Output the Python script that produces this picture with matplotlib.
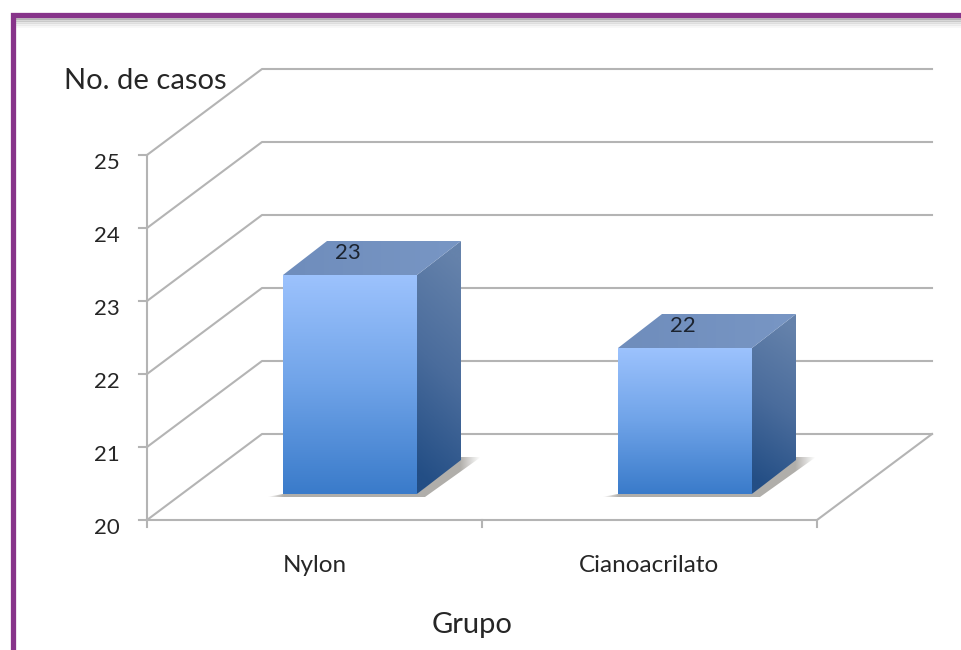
import numpy as np
import matplotlib
matplotlib.use('Agg')
import matplotlib.pyplot as plt
from matplotlib.colors import LinearSegmentedColormap
from matplotlib.patches import Polygon

categories = ['Nylon', 'Cianoacrilato']
values = [23, 22]
y_ticks = [20, 21, 22, 23, 24, 25]

plt.rcParams['font.family'] = ['Lato', 'DejaVu Sans']

W, H = 961, 650
PX_X = 335.0   # pixels per category
PX_Y = 73.0    # pixels per case
X0, Y0 = 147, 520   # where category 0, value 20 sits

# oblique offsets of the 3D box, in data units
DEPTH_X = 115 / PX_X
DEPTH_Y = 86 / PX_Y
BAR_DX = 44 / PX_X
BAR_DY = 34 / PX_Y
BAR_W = 134 / PX_X
FLOOR_X = 136 / PX_X
FLOOR_Y = 26 / PX_Y

GRID = '#b4b4b4'
TXT = '#262626'

fig = plt.figure(figsize=(W / 100, H / 100), dpi=100)
ax = fig.add_axes([0, 0, 1, 1])
ax.axis('off')
xlim = (-X0 / PX_X, (W - X0) / PX_X)
ylim = (20 - (H - Y0) / PX_Y, 20 + Y0 / PX_Y)


def grad(poly, array, cmap, zorder):
    # gradient image clipped to a polygon
    xs, ys = zip(*poly)
    p = Polygon(poly, closed=True, fc='none', ec='none', transform=ax.transData)
    ax.add_patch(p)
    im = ax.imshow(array, extent=(min(xs), max(xs), min(ys), max(ys)), cmap=cmap,
                   vmin=0, vmax=1, aspect='auto', origin='upper', zorder=zorder,
                   interpolation='bilinear')
    im.set_clip_path(p)


front_cm = LinearSegmentedColormap.from_list('front', ['#9cc2fd', '#6fa3e8', '#3a7bca'])
side_cm = LinearSegmentedColormap.from_list('side', ['#6582ab', '#4a6c9c', '#234e85'])
top_cm = LinearSegmentedColormap.from_list('top', ['#6f8dbc', '#7896c4'])
shadow_cm = LinearSegmentedColormap.from_list('shadow', ['#8f8c86', '#ffffff'])

# frame round the slide
fx = xlim[0] + 13 / PX_X
fy = ylim[1] - 14.5 / PX_Y
for i, a in enumerate([0.40, 0.28, 0.18, 0.10, 0.05]):
    ax.plot([fx, xlim[1]], [fy - (3 + i * 2) / PX_Y] * 2, color='#707070', alpha=a, lw=2, zorder=4)
ax.plot([fx, fx, xlim[1] + 1], [ylim[0] - 1, fy, fy], color='#87348a', lw=3.8,
        solid_joinstyle='miter', zorder=5)

# walls and floor lines
for v in y_ticks:
    ax.plot([0, DEPTH_X, 2 + DEPTH_X], [v, v + DEPTH_Y, v + DEPTH_Y], color=GRID, lw=1.5, zorder=1)
    ax.plot([-8 / PX_X, 0], [v, v], color=GRID, lw=1.5, zorder=1)
    ax.text(-27 / PX_X, v - 8 / PX_Y, str(v), ha='right', va='center', fontsize=16, color=TXT)
ax.plot([0, 0], [20, 25], color=GRID, lw=1.5, zorder=1)
ax.plot([0, 2, 2 + DEPTH_X], [20, 20, 20 + DEPTH_Y], color=GRID, lw=1.5, zorder=1)
for t in range(len(categories) + 1):
    ax.plot([t, t], [20, 20 - 7 / PX_Y], color=GRID, lw=1.5, zorder=1)

# bars
for i, (name, val) in enumerate(zip(categories, values)):
    x1 = i + FLOOR_X
    x2 = x1 + BAR_W
    y1 = 20 + FLOOR_Y
    y2 = val + FLOOR_Y

    # ground shadow, fading out at both tips
    sx1 = x1 - 16 / PX_X
    sx2 = x2 + BAR_DX + 20 / PX_X
    shadow = [(sx1, y1 - 3 / PX_Y), (x2 + 8 / PX_X, y1 - 3 / PX_Y),
              (sx2, y1 + BAR_DY + 3 / PX_Y), (x2 + BAR_DX, y1 + BAR_DY + 3 / PX_Y),
              (x2, y1), (x1, y1)]
    sgrid = np.linspace(sx1, sx2, 128)
    fade = np.interp(sgrid, [sx1, x1, x2 + BAR_DX, sx2], [1.0, 0.3, 0.3, 1.0]).reshape(1, -1)
    grad(shadow, fade, shadow_cm, 2)

    g = np.linspace(0, 1, 128).reshape(-1, 1)
    grad([(x1, y1), (x2, y1), (x2, y2), (x1, y2)], g, front_cm, 3)

    # side face darkens downward, slightly towards the front edge
    ramp = np.linspace(0, 1, 128).reshape(-1, 1) + np.linspace(0.08, -0.08, 32).reshape(1, -1)
    grad([(x2, y1), (x2 + BAR_DX, y1 + BAR_DY), (x2 + BAR_DX, y2 + BAR_DY), (x2, y2)],
         np.clip(ramp, 0, 1), side_cm, 3)

    g2 = np.linspace(0, 1, 32).reshape(1, -1)
    grad([(x1, y2), (x2, y2), (x2 + BAR_DX, y2 + BAR_DY), (x1 + BAR_DX, y2 + BAR_DY)], g2, top_cm, 3)

    ax.text(x1 + BAR_W / 2 - 2 / PX_X, y2 + 22 / PX_Y, str(val), ha='center', va='center',
            fontsize=16, color='#1c2430', zorder=6)
    ax.text(i + 0.5, 20 - 45 / PX_Y, name, ha='center', va='center', fontsize=17.5, color=TXT)

ax.text(-2 / PX_X, 20 + 439 / PX_Y, 'No. de casos', ha='center', va='center', fontsize=21, color=TXT)
ax.text(325 / PX_X, 20 - 105 / PX_Y, 'Grupo', ha='center', va='center', fontsize=21, color=TXT)

ax.set_xlim(xlim)
ax.set_ylim(ylim)
fig.savefig('out.png', dpi=100, facecolor='white')
